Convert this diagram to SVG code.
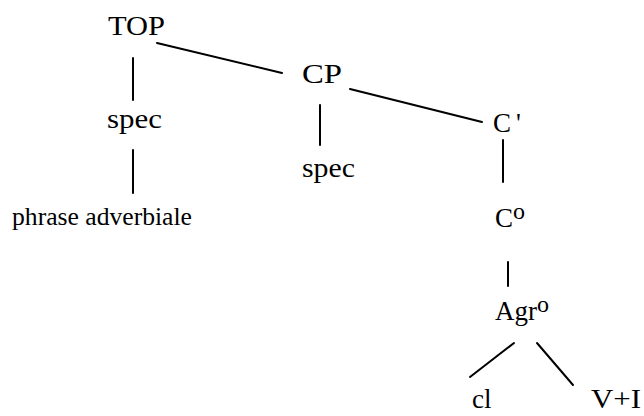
<svg xmlns="http://www.w3.org/2000/svg" width="644" height="416" viewBox="0 0 644 416">
<style>
text{font-family:"Liberation Serif","Times New Roman",serif;fill:#000;font-size:27px}
.sm{font-size:25px}
.sup{font-size:24px}
.bot{font-size:27px}
line{stroke:#000;stroke-width:2;stroke-linecap:round}
</style>
<rect width="644" height="416" fill="#fff"/>
<g id="connectors">
<line x1="133" y1="58" x2="133" y2="100"/>
<line x1="157" y1="43" x2="282" y2="73"/>
<line x1="133" y1="150" x2="133" y2="193"/>
<line x1="320" y1="105" x2="320" y2="145"/>
<line x1="350" y1="89" x2="482" y2="122"/>
<line x1="503" y1="140" x2="503" y2="182"/>
<line x1="508" y1="262" x2="508" y2="286"/>
<line x1="514" y1="343" x2="470" y2="377"/>
<line x1="537" y1="343" x2="573" y2="385"/>
</g>
<g id="TOP"><text x="108" y="35" textLength="57" lengthAdjust="spacingAndGlyphs">TOP</text></g>
<g id="spec1"><text x="107" y="128" textLength="55" lengthAdjust="spacingAndGlyphs">spec</text></g>
<g id="phrase"><text class="sm" x="12" y="225" textLength="180" lengthAdjust="spacingAndGlyphs">phrase adverbiale</text></g>
<g id="CP"><text x="302" y="83" textLength="40" lengthAdjust="spacingAndGlyphs">CP</text></g>
<g id="spec2"><text x="302" y="177" textLength="53" lengthAdjust="spacingAndGlyphs">spec</text></g>
<g id="Cbar"><text x="493" y="132">C<tspan dx="5">'</tspan></text></g>
<g id="C0"><text x="495" y="227">C<tspan class="sup" dy="-8">o</tspan></text></g>
<g id="Agr"><text x="495" y="320">Agr<tspan class="sup" dy="-8">o</tspan></text></g>
<g id="cl"><text class="bot" x="472" y="408">cl</text></g>
<g id="VI"><text class="bot" x="591" y="408" textLength="50" lengthAdjust="spacingAndGlyphs">V+I</text></g>
</svg>
